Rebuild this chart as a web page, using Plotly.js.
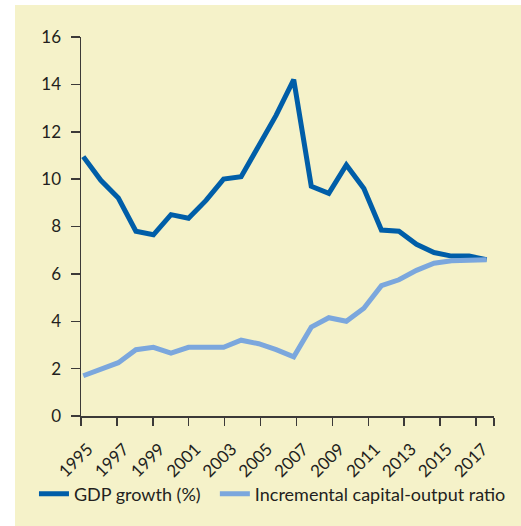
<!DOCTYPE html>
<html>
<head>
<meta charset="utf-8">
<script src="https://cdn.plot.ly/plotly-3.0.1.min.js"></script>
<style>
  html, body { margin: 0; padding: 0; background: #ffffff; }
  #chart { position: absolute; left: 15px; top: 5px; width: 506px; height: 521px; }
</style>
</head>
<body>
<div id="chart"></div>
<script>
const years = [1995,1996,1997,1998,1999,2000,2001,2002,2003,2004,2005,2006,2007,2008,2009,2010,2011,2012,2013,2014,2015,2016,2017,2018];
const gdpGrowth = [10.95,9.95,9.2,7.8,7.65,8.5,8.35,9.1,10.0,10.1,11.4,12.7,14.2,9.7,9.4,10.6,9.6,7.85,7.8,7.25,6.9,6.75,6.75,6.6];
const icor = [1.7,2.0,2.25,2.8,2.9,2.65,2.9,2.9,2.9,3.2,3.05,2.8,2.5,3.75,4.15,4.0,4.55,5.5,5.75,6.15,6.45,6.55,6.6,6.6];
const tickYears = [1995,1997,1999,2001,2003,2005,2007,2009,2011,2013,2015,2017,2018];
const tickLabels = ['1995','1997','1999','2001','2003','2005','2007','2009','2011','2013','2015','2017',''];
const seriesNames = ['GDP growth (%)', 'Incremental capital-output ratio'];

const axisColor = '#3c3a38';
const textColor = '#231f20';
const fontFam = 'Lato, "Noto Sans", sans-serif';

const traces = [
  { x: years, y: gdpGrowth, name: seriesNames[0], type: 'scatter', mode: 'lines',
    xaxis: 'x2', legend: 'legend', line: { color: '#005ea8', width: 5 }, hoverinfo: 'skip' },
  { x: years, y: icor, name: seriesNames[1], type: 'scatter', mode: 'lines',
    xaxis: 'x2', legend: 'legend2', line: { color: '#7ba7dd', width: 5 }, hoverinfo: 'skip' },
  // empty helper trace so the tick axis (xaxis) is drawn
  { x: [], y: [], type: 'scatter', mode: 'lines', xaxis: 'x', showlegend: false, hoverinfo: 'skip' }
];

const legendBase = {
  orientation: 'h', xref: 'container', yref: 'container',
  xanchor: 'left', y: 0.0614, yanchor: 'middle',
  bgcolor: 'rgba(0,0,0,0)', font: { family: fontFam, size: 18, color: textColor }
};

const layout = {
  width: 506, height: 521,
  margin: { l: 66, r: 27, t: 32, b: 110 },
  paper_bgcolor: '#f5f2c9',
  plot_bgcolor: 'rgba(0,0,0,0)',
  font: { family: fontFam, size: 18, color: textColor },
  showlegend: true,
  legend: Object.assign({}, legendBase, { x: 0.0375 }),
  legend2: Object.assign({}, legendBase, { x: 0.395 }),
  xaxis: {
    range: [1995, 2018], tickvals: tickYears, ticktext: tickLabels,
    tickangle: -45, ticks: 'outside', ticklen: 8, tickwidth: 1.5, tickcolor: axisColor,
    showline: true, linecolor: axisColor, linewidth: 1.5, showgrid: false, zeroline: false,
    tickfont: { family: fontFam, size: 17, color: textColor },
    ticklabelshift: 7, ticklabelstandoff: 7
  },
  xaxis2: {
    overlaying: 'x', range: [1994.87, 2018.42], visible: false, showgrid: false, zeroline: false
  },
  yaxis: {
    range: [0, 16], tickvals: [0,2,4,6,8,10,12,14,16],
    ticks: 'outside', ticklen: 9, tickwidth: 1.5, tickcolor: axisColor,
    showline: true, linecolor: axisColor, linewidth: 1.5, showgrid: false, zeroline: false,
    tickfont: { family: fontFam, size: 17, color: textColor }, ticklabelstandoff: 6
  }
};

Plotly.newPlot('chart', traces, layout, { displayModeBar: false, staticPlot: true });
</script>
</body>
</html>
